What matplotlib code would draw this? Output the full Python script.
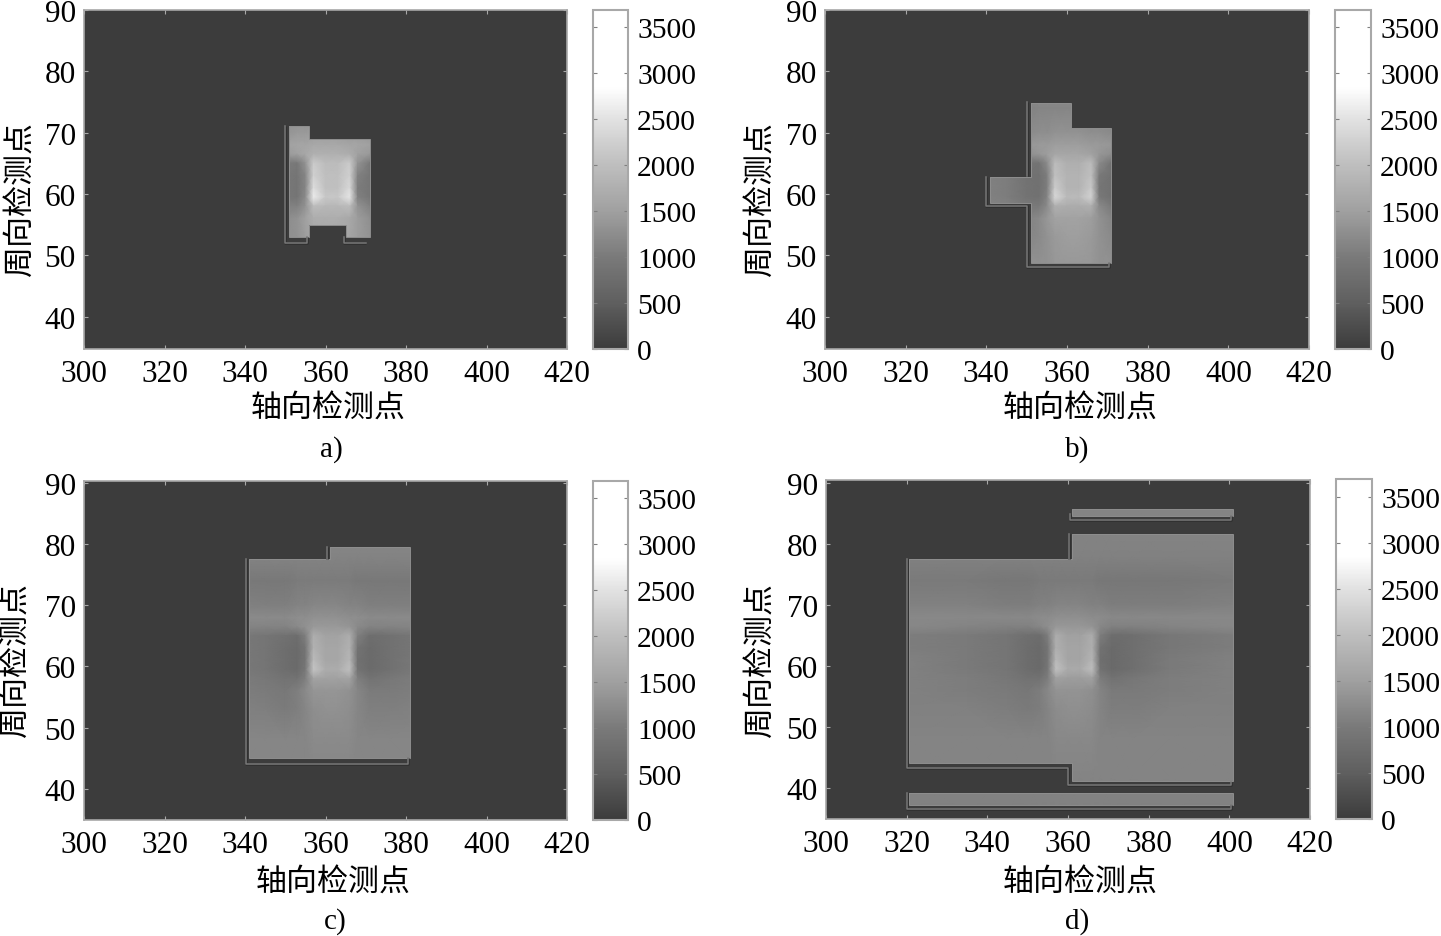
import numpy as np
import matplotlib
matplotlib.use("Agg")
import matplotlib.pyplot as plt
from matplotlib.colors import LinearSegmentedColormap, Normalize
from matplotlib.path import Path
from matplotlib.patches import PathPatch
from matplotlib.cm import ScalarMappable

W, H = 1441, 937
plt.rcParams['font.family'] = ['Liberation Serif', 'DejaVu Serif']
cjk = ['Noto Sans CJK SC', 'DejaVu Sans']

x_ticks = [300, 320, 340, 360, 380, 400, 420]
y_ticks = [40, 50, 60, 70, 80, 90]
cbar_ticks = [0, 500, 1000, 1500, 2000, 2500, 3000, 3500]
panel_names = ['a)', 'b)', 'c)', 'd)']
x_label = '轴向检测点'
y_label = '周向检测点'

field_x = [320, 335, 345, 350, 353, 355, 357, 360, 363, 366, 368, 371, 376, 385, 401]
field_y = [86, 82, 78, 74, 70, 68, 66.5, 65, 63, 61, 59.5, 58, 56, 53, 48, 42, 36]
field_v = [
    [1200, 1200, 1200, 1200, 1200, 1200, 1200, 1200, 1200, 1200, 1200, 1200, 1200, 1200, 1200],
    [1200, 1200, 1200, 1200, 1200, 1200, 1200, 1200, 1200, 1200, 1200, 1200, 1200, 1200, 1200],
    [1150, 1150, 1150, 1150, 1150, 1150, 1150, 1150, 1150, 1150, 1150, 1150, 1150, 1150, 1150],
    [1050, 1050, 1000, 1000, 1050, 1050, 1050, 1050, 1050, 1050, 1000, 1000, 1000, 1000, 1050],
    [1150, 1150, 1100, 1100, 1150, 1150, 1200, 1200, 1200, 1150, 1150, 1100, 1100, 1100, 1150],
    [1250, 1250, 1250, 1250, 1300, 1300, 1350, 1350, 1350, 1300, 1300, 1250, 1250, 1250, 1250],
    [1250, 1200, 1150, 1150, 1250, 1350, 1450, 1450, 1450, 1400, 1250, 1150, 1150, 1200, 1250],
    [1100, 1050, 950, 850, 800, 1100, 1800, 1600, 1600, 1800, 1100, 800, 850, 1000, 1100],
    [1100, 1050, 950, 800, 750, 950, 1850, 1650, 1650, 1850, 900, 750, 850, 1000, 1100],
    [1150, 1050, 950, 800, 750, 950, 2000, 1650, 1650, 1950, 850, 750, 850, 1050, 1150],
    [1150, 1050, 950, 800, 750, 1000, 2150, 1750, 1750, 2100, 900, 750, 850, 1050, 1150],
    [1150, 1100, 1000, 900, 900, 1100, 1600, 1550, 1550, 1600, 1100, 900, 1000, 1100, 1150],
    [1150, 1100, 1050, 1000, 1100, 1250, 1400, 1400, 1400, 1350, 1200, 1050, 1050, 1100, 1150],
    [1150, 1150, 1100, 1050, 1100, 1200, 1300, 1350, 1350, 1300, 1200, 1100, 1100, 1150, 1150],
    [1200, 1200, 1200, 1200, 1200, 1200, 1250, 1250, 1250, 1250, 1200, 1200, 1200, 1200, 1200],
    [1200, 1200, 1200, 1200, 1200, 1200, 1200, 1200, 1200, 1200, 1200, 1200, 1200, 1200, 1200],
    [1150, 1150, 1150, 1150, 1150, 1150, 1150, 1150, 1150, 1150, 1150, 1150, 1150, 1150, 1150],
]
panel_scale = [1.22, 1.1, 0.97, 0.95]

region_a = [[(351, 53), (356, 53), (356, 55), (365, 55), (365, 53), (371, 53), (371, 69), (356, 69), (356, 71), (351, 71)]]
region_b = [[(351, 48.8), (371, 48.8), (371, 70.8), (361, 70.8), (361, 74.8), (351, 74.8), (351, 62.7), (341, 62.7),
             (341, 58.5), (351, 58.5)]]
region_c = [[(341, 45), (381, 45), (381, 79.5), (361, 79.5), (361, 77.5), (341, 77.5)]]
region_d = [[(320.7, 44.1), (361, 44.1), (361, 41.2), (401, 41.2), (401, 81.7), (361, 81.7), (361, 77.6), (320.7, 77.6)],
            [(361, 84.6), (401, 84.6), (401, 85.8), (361, 85.8)],
            [(320.7, 37.2), (401, 37.2), (401, 39.2), (320.7, 39.2)]]
regions = [region_a, region_b, region_c, region_d]

ghost_a = [[(350, 71), (350, 52), (355.5, 52), (355.5, 53)], [(364.5, 53), (364.5, 52), (370, 52)]]
ghost_b = [[(350.2, 75), (350.2, 63)], [(340, 62.7), (340, 58), (350, 58), (350, 48), (370.5, 48), (370.5, 48.8)]]
ghost_c = [[(340.2, 77.5), (340.2, 44), (380.5, 44), (380.5, 45)], [(360.3, 77.6), (360.3, 79.5)]]
ghost_d = [[(320, 77.6), (320, 43.3), (360, 43.3), (360, 40.4), (400.5, 40.4), (400.5, 41)],
           [(360.3, 77.6), (360.3, 81.7)], [(360.5, 85), (360.5, 83.9), (400.5, 83.9), (400.5, 84.6)],
           [(320, 39.2), (320, 36.5), (400.5, 36.5), (400.5, 37.2)]]
ghosts = [ghost_a, ghost_b, ghost_c, ghost_d]

# pixel boxes: left, top, right, bottom
ax_boxes = [(84, 11, 567, 350), (825, 11, 1309, 350), (84, 482, 567, 821), (826, 481, 1310, 820)]
cb_boxes = [(593, 11, 628, 350), (1335, 11, 1371, 350), (593, 482, 628, 821), (1336, 480, 1372, 820)]
ylims = [(34.7, 90), (34.7, 90), (34.9, 90.3), (34.9, 90.5)]
xlabel_pos = [(328, 408), (1080, 408), (333, 882), (1080, 882)]
ylabel_pos = [(20, 199), (760, 199), (15, 660), (760, 660)]
name_pos = [(331, 450), (1077, 450), (335, 922), (1077, 922)]

cmap = LinearSegmentedColormap.from_list('g', [(0, '#3c3c3c'), (500 / 3700, '#5f5f5f'), (1000 / 3700, '#7a7a7a'),
                                               (1500 / 3700, '#a0a0a0'), (2000 / 3700, '#bebebe'),
                                               (2500 / 3700, '#e1e1e1'), (2850 / 3700, '#ffffff'), (1, '#ffffff')])
norm = Normalize(0, 3700)

fig = plt.figure(figsize=(W / 100, H / 100), dpi=100)
FS = 22.5
frame = '#a8a8a8'


def box(b):
    l, t, r, bt = b
    return [l / W, 1 - bt / H, (r - l) / W, (bt - t) / H]


X, Y = np.meshgrid(field_x, field_y)
V = np.array(field_v, dtype=float)
for i in range(4):
    ax = fig.add_axes(box(ax_boxes[i]))
    ax.set_xlim(300, 420)
    ax.set_ylim(*ylims[i])
    ax.set_facecolor(cmap(0.0))
    mesh = ax.pcolormesh(X, Y, V * panel_scale[i], cmap=cmap, norm=norm, shading='gouraud')
    verts, codes = [], []
    for poly in regions[i]:
        verts += list(poly) + [poly[0]]
        codes += [Path.MOVETO] + [Path.LINETO] * (len(poly) - 1) + [Path.CLOSEPOLY]
    clip = PathPatch(Path(verts, codes), transform=ax.transData, fc='none', ec='#8e8e8e', lw=0.7)
    ax.add_patch(clip)
    mesh.set_clip_path(clip)
    for seg in ghosts[i]:
        xs, ys = zip(*seg)
        ax.plot(xs, ys, color='#303030', lw=2.0, solid_capstyle='butt', zorder=3)
        ax.plot(xs, ys, color='#787878', lw=1.1, zorder=4)
    ax.set_xticks(x_ticks)
    ax.set_yticks(y_ticks)
    ax.tick_params(direction='in', length=3, width=0.8, color=frame, labelsize=FS, pad=6, top=True, right=True)
    ax.tick_params(axis='x', pad=7)
    for s in ax.spines.values():
        s.set_color(frame)
        s.set_linewidth(1.2)

    cax = fig.add_axes(box(cb_boxes[i]))
    cb = fig.colorbar(ScalarMappable(norm=norm, cmap=cmap), cax=cax)
    cax.set_ylim(0, 3690)
    cb.set_ticks(cbar_ticks)
    cax.tick_params(direction='in', length=3, width=0.8, color='#808080', labelsize=21.3, pad=6.5,
                    left=True, right=True, labelleft=False, labelright=True)
    cb.outline.set_edgecolor(frame)
    cb.outline.set_linewidth(1.5)

    px, py = xlabel_pos[i]
    fig.text(px / W, 1 - py / H, x_label, family=cjk, fontsize=22.3, ha='center', va='center')
    px, py = ylabel_pos[i]
    fig.text(px / W, 1 - py / H, y_label, family=cjk, fontsize=22.3, rotation=90, ha='center', va='center')
    px, py = name_pos[i]
    fig.text(px / W, 1 - py / H, panel_names[i], fontsize=21, ha='center', va='center')

fig.savefig('out.png', dpi=100)
